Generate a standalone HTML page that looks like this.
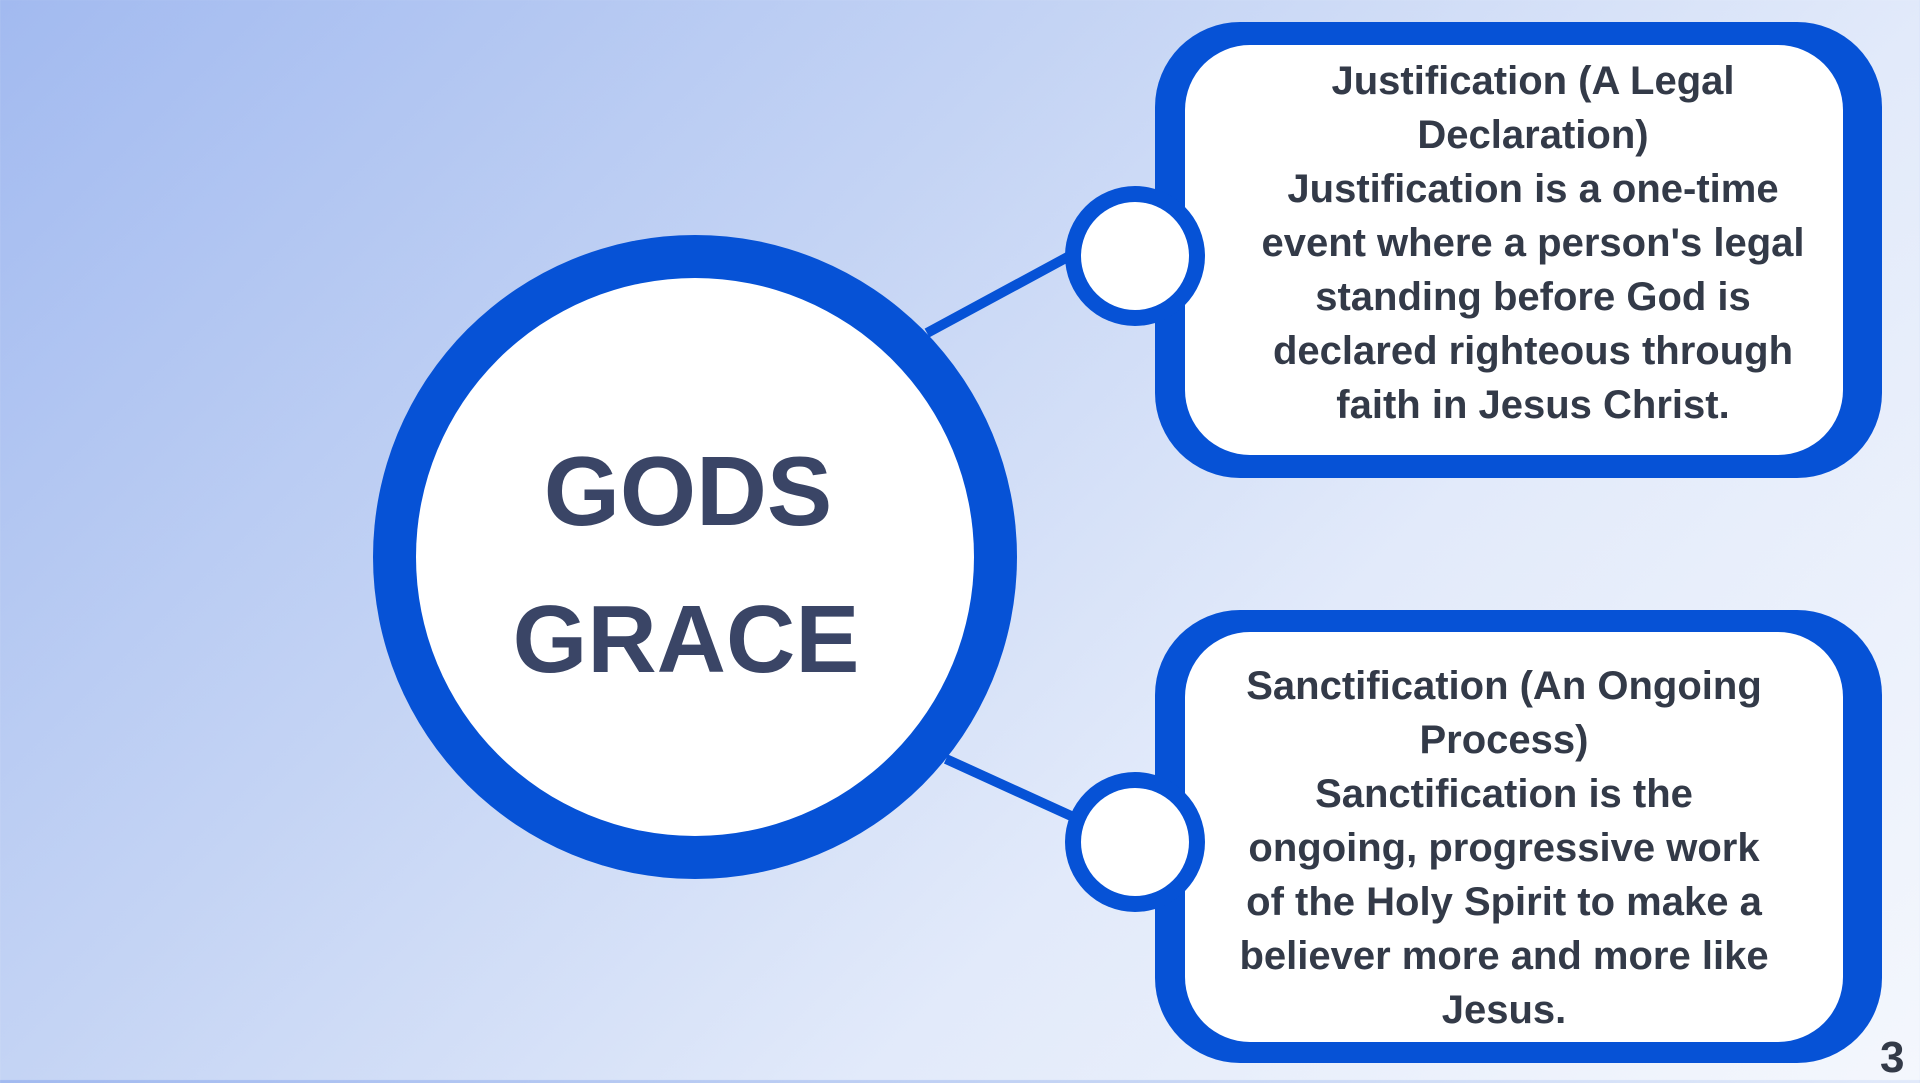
<!DOCTYPE html>
<html><head><meta charset="utf-8"><style>
html,body{margin:0;padding:0}
body{width:1920px;height:1080px;overflow:hidden;position:relative;font-family:"Liberation Sans",sans-serif;
background:linear-gradient(135deg,#a2baf0 0%,#c3d3f4 35%,#e2eafa 65%,#f4f7fd 100%);}
.abs{position:absolute}
.txt{position:absolute;color:#333a48;font-weight:bold;text-align:center;font-size:40px;line-height:54px}
</style></head><body>
<svg class="abs" style="left:0;top:0" width="1920" height="1080">
<line x1="927" y1="333" x2="1075" y2="253" stroke="#0652d6" stroke-width="10"/>
<line x1="946" y1="759" x2="1080" y2="820" stroke="#0652d6" stroke-width="10"/>
<circle cx="695" cy="557" r="322" fill="#0652d6"/>
<circle cx="695" cy="557" r="279" fill="#fff"/>
<rect x="1155" y="22" width="727" height="456" rx="85" fill="#0652d6"/>
<rect x="1185" y="45" width="658" height="410" rx="65" fill="#fff"/>
<rect x="1155" y="610" width="727" height="453" rx="85" fill="#0652d6"/>
<rect x="1185" y="632" width="658" height="410" rx="65" fill="#fff"/>
<circle cx="1135" cy="256" r="70" fill="#0652d6"/>
<circle cx="1135" cy="256" r="54" fill="#fff"/>
<circle cx="1135" cy="842" r="70" fill="#0652d6"/>
<circle cx="1135" cy="842" r="54" fill="#fff"/>
<text x="688" y="525" text-anchor="middle" font-family="Liberation Sans" font-weight="bold" font-size="98" fill="#3a4566">GODS</text>
<text x="686" y="672" text-anchor="middle" font-family="Liberation Sans" font-weight="bold" font-size="96" fill="#3a4566">GRACE</text>
</svg>
<div class="txt" style="left:1193px;top:54px;width:680px">Justification (A Legal<br>Declaration)<br>Justification is a one-time<br>event where a person's legal<br>standing before God is<br>declared righteous through<br>faith in Jesus Christ.</div>
<div class="txt" style="left:1164px;top:659px;width:680px">Sanctification (An Ongoing<br>Process)<br>Sanctification is the<br>ongoing, progressive work<br>of the Holy Spirit to make a<br>believer more and more like<br>Jesus.</div>
<div class="abs" style="left:1880px;top:1033px;font-size:44px;font-weight:bold;color:#333a48">3</div>
</body></html>
